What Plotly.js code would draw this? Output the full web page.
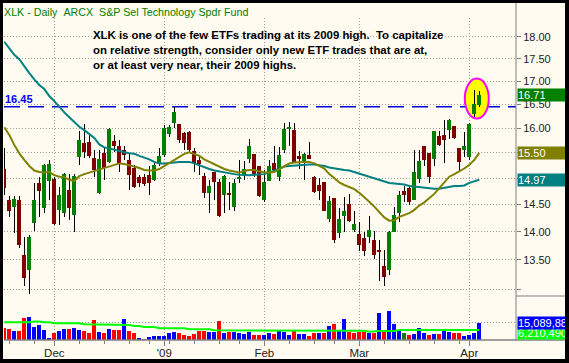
<!DOCTYPE html>
<html><head><meta charset="utf-8">
<script src="https://cdn.plot.ly/plotly-3.0.1.min.js"></script>
<style>
html,body{margin:0;padding:0;background:#000;width:569px;height:363px;overflow:hidden;}
#chart{position:absolute;left:3px;top:3px;width:562px;height:356px;}
</style></head><body><div id="chart"></div>
<script>
const dates = ['2008-11-14','2008-11-17','2008-11-18','2008-11-19','2008-11-20','2008-11-21','2008-11-24','2008-11-25','2008-11-26','2008-11-28',
'2008-12-01','2008-12-02','2008-12-03','2008-12-04','2008-12-05','2008-12-08','2008-12-09','2008-12-10','2008-12-11','2008-12-12','2008-12-15','2008-12-16','2008-12-17','2008-12-18','2008-12-19','2008-12-22','2008-12-23','2008-12-24','2008-12-26','2008-12-29','2008-12-30','2008-12-31',
'2009-01-02','2009-01-05','2009-01-06','2009-01-07','2009-01-08','2009-01-09','2009-01-12','2009-01-13','2009-01-14','2009-01-15','2009-01-16','2009-01-20','2009-01-21','2009-01-22','2009-01-23','2009-01-26','2009-01-27','2009-01-28','2009-01-29','2009-01-30',
'2009-02-02','2009-02-03','2009-02-04','2009-02-05','2009-02-06','2009-02-09','2009-02-10','2009-02-11','2009-02-12','2009-02-13','2009-02-17','2009-02-18','2009-02-19','2009-02-20','2009-02-23','2009-02-24','2009-02-25','2009-02-26','2009-02-27',
'2009-03-02','2009-03-03','2009-03-04','2009-03-05','2009-03-06','2009-03-09','2009-03-10','2009-03-11','2009-03-12','2009-03-13','2009-03-16','2009-03-17','2009-03-18','2009-03-19','2009-03-20','2009-03-23','2009-03-24','2009-03-25','2009-03-26','2009-03-27','2009-03-30','2009-03-31',
'2009-04-01','2009-04-02','2009-04-03'];

const open = [15.18,14.59,14.45,14.59,13.59,13.33,14.16,14.90,14.43,14.95,
 14.98,14.40,14.34,14.78,14.31,15.42,15.70,15.71,15.39,14.71,
 15.50,15.32,15.73,15.63,15.56,15.36,15.20,15.03,15.03,15.06,
 14.97,15.29,15.45,15.88,16.10,16.09,15.90,15.93,15.54,15.36,
 15.04,14.72,15.12,14.93,14.68,14.72,14.46,14.98,15.06,15.37,
 15.48,15.24,14.59,14.95,15.29,15.03,15.56,15.98,15.96,15.44,
 15.32,15.46,15.03,14.87,14.92,14.24,14.62,13.97,14.29,14.51,
 14.03,13.96,13.88,13.91,13.85,13.67,13.39,13.33,14.00,14.34,
 14.75,14.82,14.59,14.98,15.63,15.50,15.38,15.84,15.86,15.96,
 16.05,15.59,15.56,15.42,16.30,16.48];
const high = [15.59,14.66,14.66,14.66,13.91,13.94,14.90,15.03,15.27,15.36,
 15.03,14.84,15.10,15.09,15.09,15.95,16.09,15.86,15.56,15.56,
 15.59,16.00,15.86,15.76,15.63,15.49,15.26,15.06,15.08,15.23,
 15.29,15.59,16.07,16.06,16.45,16.09,15.93,15.94,15.59,15.42,
 15.10,14.97,15.13,14.98,15.06,14.93,14.98,15.36,15.34,15.77,
 15.48,15.24,15.16,15.36,15.64,15.62,16.10,16.13,16.10,15.54,
 15.50,15.71,15.04,15.00,14.92,14.66,14.62,14.43,14.64,14.70,
 14.37,14.18,14.00,14.28,14.01,13.85,13.68,14.02,14.46,14.76,
 14.85,14.87,15.56,15.56,15.63,15.50,15.95,15.95,16.17,16.20,
 16.05,15.59,15.93,16.10,16.82,16.79];
const low = [14.68,14.27,13.97,13.70,13.06,12.92,14.02,14.27,14.34,14.59,
 14.12,14.12,14.27,14.21,13.99,15.25,15.39,15.39,15.03,14.70,
 14.97,15.30,15.52,15.13,15.36,14.78,14.81,14.84,14.86,14.68,
 14.95,15.23,15.42,15.83,16.00,15.70,15.56,15.52,15.12,15.06,
 14.63,14.34,14.59,14.27,14.34,14.40,14.37,14.91,14.97,15.29,
 15.03,14.65,14.54,14.95,15.10,14.95,15.49,15.64,15.32,15.18,
 14.97,15.37,14.71,14.59,14.37,14.18,13.80,13.88,13.99,14.17,
 14.00,13.65,13.56,13.80,13.52,13.14,13.06,13.24,14.00,14.17,
 14.55,14.49,14.59,14.91,15.23,14.91,15.23,15.63,15.30,15.77,
 15.77,15.15,15.42,15.36,16.24,16.44];
const close = [14.81,14.38,14.60,13.76,13.18,13.90,14.59,14.76,15.26,15.28,
 14.14,14.67,15.08,14.43,15.05,15.76,15.52,15.44,15.16,15.37,
 15.20,15.98,15.63,15.29,15.46,15.06,14.84,14.90,14.88,14.90,
 15.25,15.44,16.01,16.03,16.33,15.76,15.70,15.56,15.29,15.27,
 14.72,14.85,14.93,14.29,15.05,14.68,14.90,15.03,15.18,15.63,
 15.08,14.66,14.93,15.24,15.16,15.46,15.98,16.03,15.32,15.37,
 15.48,15.37,14.74,14.76,14.38,14.56,13.85,14.24,14.38,14.20,
 14.14,13.76,13.65,14.03,13.58,13.64,13.21,14.00,14.31,14.68,
 14.68,14.55,15.13,15.34,15.36,15.03,15.95,15.66,15.75,16.18,
 15.81,15.32,15.64,16.09,16.51,16.71];
const priorClose = 15.30;

const maSlow = [17.89,17.74,17.59,17.49,17.32,17.18,17.04,16.92,16.83,16.68,
 16.57,16.44,16.33,16.23,16.12,16.03,15.96,15.88,15.80,15.67,
 15.61,15.59,15.56,15.54,15.51,15.49,15.48,15.44,15.41,15.37,
 15.32,15.29,15.29,15.30,15.32,15.32,15.32,15.32,15.29,15.25,
 15.21,15.18,15.15,15.13,15.11,15.10,15.08,15.07,15.06,15.06,
 15.07,15.08,15.08,15.11,15.15,15.20,15.23,15.24,15.25,15.25,
 15.26,15.27,15.27,15.26,15.24,15.21,15.19,15.18,15.16,15.15,
 15.12,15.09,15.05,15.02,14.99,14.96,14.93,14.91,14.90,14.89,
 14.88,14.85,14.84,14.83,14.81,14.81,14.80,14.80,14.82,14.84,
 14.85,14.85,14.86,14.91,14.94,14.97];
const maFast = [16.02,15.86,15.66,15.49,15.36,15.24,15.15,15.12,15.11,15.12,
 15.06,15.03,15.02,14.97,14.95,15.04,15.08,15.11,15.14,15.16,
 15.20,15.23,15.26,15.29,15.28,15.26,15.23,15.20,15.16,15.15,
 15.15,15.18,15.24,15.30,15.36,15.42,15.48,15.51,15.48,15.44,
 15.37,15.32,15.28,15.23,15.18,15.15,15.13,15.11,15.14,15.16,
 15.16,15.13,15.11,15.11,15.12,15.18,15.24,15.29,15.31,15.32,
 15.32,15.32,15.29,15.24,15.19,15.08,14.99,14.92,14.87,14.83,
 14.79,14.72,14.64,14.55,14.46,14.35,14.26,14.20,14.21,14.27,
 14.30,14.34,14.40,14.48,14.54,14.62,14.70,14.81,14.93,15.03,
 15.08,15.13,15.19,15.26,15.36,15.50];

const volumeM = [10.2,9.3,7.8,7.8,19.2,20.3,11.6,13.1,8.7,1.7,
 6.4,7.8,9.6,9.6,10.5,8.7,7.8,6.4,17.4,7.4,
 5.7,9.6,8.3,8.3,17.9,7.8,5.7,1.6,1.3,2.2,
 3.5,3.9,3.9,5.7,7.4,6.1,4.4,3.9,5.2,7.8,
 7.8,7.0,7.0,17.0,5.7,7.0,7.0,6.4,5.2,6.7,
 4.4,4.4,4.4,6.1,5.2,8.5,7.0,4.4,8.5,5.2,
 5.2,3.5,5.8,5.8,5.8,12.2,14.0,7.8,18.3,7.0,
 6.1,7.0,7.0,6.1,6.1,23.5,8.7,25.3,14.0,7.8,
 6.1,4.4,5.2,10.5,6.1,4.4,5.0,5.0,7.8,7.4,
 5.7,5.7,3.9,4.8,6.1,15.08988];
const volAvgLineM = [15.4,15.4,15.4,15.4,15.4,15.4,16.1,16.1,15.4,15.4,
 14.6,14.6,14.6,14.6,14.6,14.6,13.7,13.7,13.7,13.7,
 13.7,13.7,13.7,13.1,13.1,13.1,12.2,12.2,11.3,11.3,
 11.3,10.2,10.2,10.2,10.2,10.2,10.2,9.3,9.3,9.3,
 9.3,9.3,8.5,8.5,8.5,8.5,8.5,8.5,8.5,8.5,
 8.5,8.5,8.5,8.5,8.1,8.1,8.1,8.1,8.1,8.1,
 8.1,8.1,8.1,8.1,8.1,8.1,8.1,8.1,8.1,8.1,
 8.1,8.1,8.1,7.2,7.8,7.8,7.8,7.8,7.8,8.7,
 8.7,8.7,8.7,8.7,8.7,8.7,8.7,8.7,8.7,8.7,
 8.7,8.7,8.7,8.7,8.7,8.7];
const volAvgLabel = 6210490;

const resistance = 16.45;
const monthTickDates = ['2008-12-01','2009-01-02','2009-02-02','2009-03-02','2009-04-01'];
const monthTickText = ['Dec',"'09",'Feb','Mar','Apr'];
const priceTicks = [13.00,13.50,14.00,14.50,15.00,15.50,16.00,16.50,17.00,17.50,18.00];
const titleText = 'XLK - Daily\u00a0\u00a0ARCX\u00a0\u00a0S&P Sel Technology Spdr Fund';
const noteLines = ['XLK is one of the few ETFs trading at its 2009 high.\u00a0\u00a0To capitalize',
                   'on relative strength, consider only new ETF trades that are at,',
                   'or at least very near, their 2009 highs.'];

// ---- derived ----
const n = dates.length;
const idx = dates.map((d, i) => i);
const last = n - 1;
const monthIdx = monthTickDates.map(d => dates.indexOf(d));
const weekIdx = [];
for (let i = 1; i < n; i++) {
  const a = new Date(dates[i - 1] + 'T00:00:00Z').getUTCDay();
  const b = new Date(dates[i] + 'T00:00:00Z').getUTCDay();
  if (b < a) weekIdx.push(i);
}
const bodyBase = open.map((o, i) => Math.min(o, close[i]));
const bodySize = open.map((o, i) => Math.max(Math.abs(close[i] - o), 0.012));
const bodyColor = open.map((o, i) => close[i] >= o ? '#008000' : '#800000');
const volColor = close.map((c, i) => {
  const p = i === 0 ? priorClose : close[i - 1];
  return c > p ? '#0000FF' : (c < p ? '#FF0000' : '#008000');
});

const FONT = 'Liberation Sans, Arial, sans-serif';
const GRID = '#9a9a9a';
const AX = '#808080';

const traces = [
  {type:'bar', x:idx, base:low, y:high.map((h, i) => h - low[i]), width:0.2,
   marker:{color:'#000000', line:{width:0}}, xaxis:'x', yaxis:'y', hoverinfo:'skip'},
  {type:'bar', x:idx, base:bodyBase, y:bodySize, width:0.76,
   marker:{color:bodyColor, line:{width:0}}, xaxis:'x', yaxis:'y', hoverinfo:'skip'},
  {type:'scatter', mode:'lines', x:idx, y:maSlow, line:{color:'#008080', width:2}, xaxis:'x', yaxis:'y'},
  {type:'scatter', mode:'lines', x:idx, y:maFast, line:{color:'#808000', width:2}, xaxis:'x', yaxis:'y'},
  {type:'bar', x:idx, y:volumeM, width:0.78, marker:{color:volColor, line:{width:0}}, xaxis:'x', yaxis:'y2'},
  {type:'scatter', mode:'lines', x:idx, y:volAvgLineM, line:{color:'#00FF00', width:2}, xaxis:'x', yaxis:'y2'}
];

const PLOT_W = 512, PLOT_H = 322;
const splitFrac = 44 / PLOT_H;
const rightEdge = 561 / PLOT_W;

const fmtVol = v => Math.round(v).toLocaleString('en-US');

const layout = {
  width:562, height:356,
  margin:{l:1, r:49, t:15, b:19, pad:0},
  paper_bgcolor:'#FFFBF0', plot_bgcolor:'#FFFBF0',
  showlegend:false, barmode:'overlay', bargap:0,
  font:{family:FONT, size:11, color:'#222222'},
  xaxis:{type:'linear', range:[-0.06, 102.34], anchor:'y2', fixedrange:true,
    tickmode:'array', tickvals:monthIdx, ticktext:monthTickText,
    ticks:'outside', ticklen:5, tickwidth:1, tickcolor:AX, ticklabelstandoff:-3,
    tickfont:{family:FONT, size:11.5, color:'#222222'},
    showgrid:true, gridcolor:GRID, gridwidth:1, griddash:'1px,2px',
    showline:false, zeroline:false,
    minor:{tickmode:'array', tickvals:weekIdx, ticks:'outside', ticklen:3, tickwidth:1, tickcolor:AX, showgrid:false}},
  yaxis:{type:'log', domain:[splitFrac, 1], range:[Math.log10(12.885), Math.log10(18.4467)], side:'right', anchor:'x',
    tickmode:'array', tickvals:priceTicks, ticktext:priceTicks.map(v => v <= 13 ? '' : v.toFixed(2)),
    ticks:'outside', ticklen:4, tickwidth:1, tickcolor:AX,
    tickfont:{family:FONT, size:11, color:'#222222'},
    showgrid:true, gridcolor:GRID, gridwidth:1, griddash:'1px,2px',
    showline:false, zeroline:false, fixedrange:true},
  yaxis2:{domain:[0, splitFrac], range:[0, 38.4], side:'right', anchor:'x',
    tickmode:'array', tickvals:[15.4], showticklabels:false, ticks:'',
    showgrid:true, gridcolor:GRID, gridwidth:1, griddash:'1px,2px',
    showline:false, zeroline:false, fixedrange:true},
  shapes:[
    {type:'line', xref:'paper', yref:'y', x0:0, x1:1, y0:resistance, y1:resistance,
     line:{color:'#0000DD', width:1.3, dash:'16px,8px'}, layer:'between'},
    {type:'circle', xref:'x', yref:'y', x0:92.1, x1:96.9, y0:16.20, y1:17.06,
     fillcolor:'#FFFF00', line:{color:'#FF00FF', width:2}, layer:'between'},
    {type:'line', xref:'paper', yref:'paper', x0:1, x1:1, y0:0, y1:337/PLOT_H, line:{color:AX, width:1}},
    {type:'line', xref:'paper', yref:'paper', x0:1, x1:rightEdge, y0:splitFrac, y1:splitFrac, line:{color:AX, width:1}},
    {type:'line', xref:'paper', yref:'paper', x0:0, x1:rightEdge, y0:0, y1:0, line:{color:AX, width:1.3}}
  ],
  annotations:[
    {xref:'paper', yref:'paper', x:0, xshift:-2, y:(340 - 12) / PLOT_H, xanchor:'left', yanchor:'middle', showarrow:false,
     text:titleText, font:{family:FONT, size:10.7, color:'#008000'}},
    {xref:'paper', yref:'paper', x:(93 - 4) / PLOT_W, xshift:-2, y:(340 - 27) / PLOT_H, xanchor:'left', yanchor:'top', align:'left', showarrow:false,
     text:noteLines.map(s => '<b>' + s + '</b>').join('<br>'), font:{family:FONT, size:11.4, color:'#000000'}},
    {xref:'paper', yref:'y', x:0, xshift:-1, y:Math.log10(resistance), xanchor:'left', yanchor:'bottom', showarrow:false,
     text:'<b>' + resistance.toFixed(2) + '</b>', font:{family:FONT, size:11, color:'#0000FF'}},
    {xref:'paper', yref:'y', x:1, xshift:1, y:Math.log10(close[last]), xanchor:'left', yanchor:'middle', showarrow:false,
     text:close[last].toFixed(2), bgcolor:'#008000', width:50, height:12, align:'left', borderpad:0,
     font:{family:FONT, size:11, color:'#FFFFFF'}},
    {xref:'paper', yref:'y', x:1, xshift:1, y:Math.log10(maFast[last]), xanchor:'left', yanchor:'middle', showarrow:false,
     text:maFast[last].toFixed(2), bgcolor:'#808000', width:50, height:12, align:'left', borderpad:0,
     font:{family:FONT, size:11, color:'#FFFFFF'}},
    {xref:'paper', yref:'y', x:1, xshift:1, y:Math.log10(maSlow[last]), xanchor:'left', yanchor:'middle', showarrow:false,
     text:maSlow[last].toFixed(2), bgcolor:'#008080', width:50, height:12, align:'left', borderpad:0,
     font:{family:FONT, size:11, color:'#FFFFFF'}},
    {xref:'paper', yref:'y2', x:1, xshift:1, y:volAvgLabel / 1e6, xanchor:'left', yanchor:'middle', showarrow:false,
     text:fmtVol(volAvgLabel), bgcolor:'#00FF00', width:56, height:12, align:'left', borderpad:0,
     font:{family:FONT, size:11, color:'#FFFFFF'}},
    {xref:'paper', yref:'y2', x:1, xshift:1, y:volumeM[last], xanchor:'left', yanchor:'middle', showarrow:false,
     text:fmtVol(volumeM[last] * 1e6), bgcolor:'#0000FF', width:56, height:12, align:'left', borderpad:0,
     font:{family:FONT, size:11, color:'#FFFFFF'}}
  ]
};

Plotly.newPlot('chart', traces, layout, {staticPlot:true, displayModeBar:false});
</script>
</body></html>
